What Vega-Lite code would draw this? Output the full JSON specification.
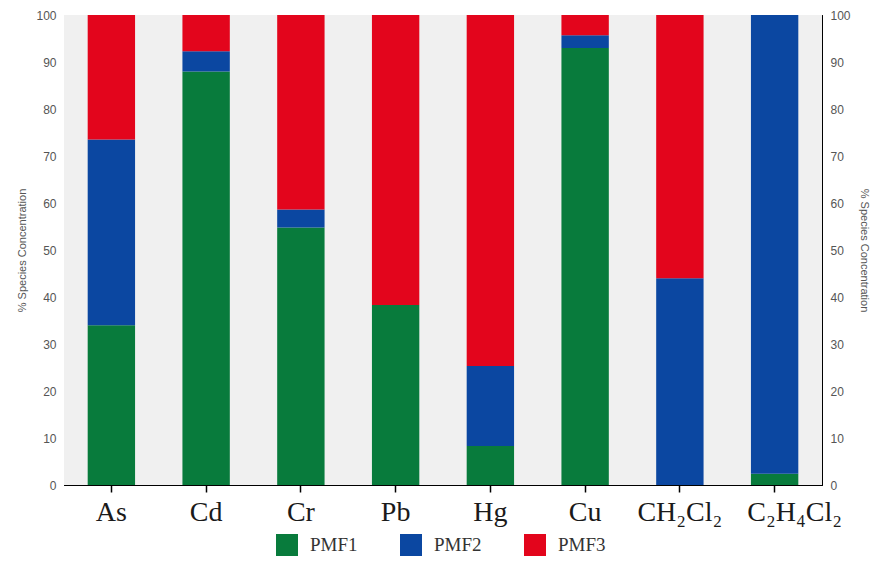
{
  "$schema": "https://vega.github.io/schema/vega-lite/v6.json",
  "width": 758,
  "height": 470,
  "autosize": "none",
  "padding": {"left": 64, "top": 15, "right": 50, "bottom": 78},
  "background": "white",
  "view": {"stroke": "black", "strokeWidth": 1},
  "config": {"axis": {"ticks": true, "tickOpacity": 1, "domainOpacity": 1, "tickColor": "black", "domainColor": "black"}},
  "datasets": {
    "shares": [
      {"species": "As", "series": "PMF1", "value": 34},
      {"species": "As", "series": "PMF2", "value": 39.5},
      {"species": "As", "series": "PMF3", "value": 26.5},
      {"species": "Cd", "series": "PMF1", "value": 88},
      {"species": "Cd", "series": "PMF2", "value": 4.3},
      {"species": "Cd", "series": "PMF3", "value": 7.7},
      {"species": "Cr", "series": "PMF1", "value": 54.8},
      {"species": "Cr", "series": "PMF2", "value": 3.8},
      {"species": "Cr", "series": "PMF3", "value": 41.4},
      {"species": "Pb", "series": "PMF1", "value": 38.3},
      {"species": "Pb", "series": "PMF2", "value": 0},
      {"species": "Pb", "series": "PMF3", "value": 61.7},
      {"species": "Hg", "series": "PMF1", "value": 8.3},
      {"species": "Hg", "series": "PMF2", "value": 17},
      {"species": "Hg", "series": "PMF3", "value": 74.7},
      {"species": "Cu", "series": "PMF1", "value": 93},
      {"species": "Cu", "series": "PMF2", "value": 2.7},
      {"species": "Cu", "series": "PMF3", "value": 4.3},
      {"species": "CH₂Cl₂", "series": "PMF1", "value": 0},
      {"species": "CH₂Cl₂", "series": "PMF2", "value": 44},
      {"species": "CH₂Cl₂", "series": "PMF3", "value": 56},
      {"species": "C₂H₄Cl₂", "series": "PMF1", "value": 2.4},
      {"species": "C₂H₄Cl₂", "series": "PMF2", "value": 97.6},
      {"species": "C₂H₄Cl₂", "series": "PMF3", "value": 0}
    ],
    "panel": [{"name": "plot"}]
  },
  "layer": [
    {
      "data": {"name": "panel"},
      "mark": {"type": "rect", "color": "#f0f0f0"},
      "encoding": {}
    },
    {
      "data": {"name": "shares"},
      "mark": {"type": "bar"},
      "encoding": {
        "x": {
          "field": "species",
          "type": "nominal",
          "sort": null,
          "scale": {"paddingInner": 0.5, "paddingOuter": 0.25},
          "axis": {
            "title": null,
            "labelAngle": 0,
            "labelFont": "Liberation Serif",
            "labelFontSize": 28,
            "labelColor": "#1a1a1a",
            "labelPadding": 6,
            "labelOffset": {"condition": {"test": "datum.label === 'C₂H₄Cl₂'", "value": 20}, "value": 0},
            "ticks": true,
            "tickSize": 7,
            "tickWidth": 1.5,
            "tickOpacity": 1,
            "tickColor": "black",
            "domainColor": "black",
            "grid": false
          }
        },
        "y": {
          "field": "value",
          "type": "quantitative",
          "stack": "zero",
          "scale": {"domain": [0, 100], "nice": false},
          "axis": {
            "title": "% Species Concentration",
            "titleFont": "Liberation Sans",
            "titleFontSize": 11,
            "titleFontWeight": "normal",
            "titleColor": "#555",
            "titlePadding": 8,
            "grid": false,
            "values": [0,1,2,3,4,5,6,7,8,9,10,11,12,13,14,15,16,17,18,19,20,21,22,23,24,25,26,27,28,29,30,31,32,33,34,35,36,37,38,39,40,41,42,43,44,45,46,47,48,49,50,51,52,53,54,55,56,57,58,59,60,61,62,63,64,65,66,67,68,69,70,71,72,73,74,75,76,77,78,79,80,81,82,83,84,85,86,87,88,89,90,91,92,93,94,95,96,97,98,99,100],
            "labelExpr": "datum.value % 10 === 0 ? datum.label : ''",
            "labelOverlap": false,
            "labelFont": "Liberation Sans",
            "labelFontSize": 12,
            "labelColor": "#555",
            "labelPadding": 16,
            "ticks": true,
            "tickSize": -8,
            "tickDash": {"condition": {"test": "datum.value % 10 === 0", "value": [8, 0]}, "value": [4, 8]},
            "tickColor": "black",
            "tickOpacity": 1,
            "tickWidth": 1,
            "domainColor": "black"
          }
        },
        "color": {
          "field": "series",
          "type": "nominal",
          "scale": {"domain": ["PMF1", "PMF2", "PMF3"], "range": ["#087b3c", "#0b47a1", "#e3051c"]},
          "legend": {
            "title": null,
            "orient": "none",
            "legendX": 212,
            "legendY": 519,
            "direction": "horizontal",
            "symbolType": "square",
            "symbolSize": 484,
            "symbolStrokeWidth": 0,
            "symbolOpacity": 1,
            "labelFont": "Liberation Serif",
            "labelFontSize": 19,
            "labelColor": "#333",
            "labelOffset": 12,
            "columnPadding": 42
          }
        },
        "order": {"field": "series", "sort": "ascending"}
      }
    },
    {
      "data": {"name": "shares"},
      "mark": {"type": "bar", "opacity": 0},
      "encoding": {
        "x": {"field": "species", "type": "nominal", "sort": null},
        "y": {
          "field": "value",
          "type": "quantitative",
          "stack": "zero",
          "scale": {"domain": [0, 100], "nice": false},
          "axis": {
            "orient": "right",
            "title": "% Species Concentration",
            "titleFont": "Liberation Sans",
            "titleFontSize": 11,
            "titleFontWeight": "normal",
            "titleColor": "#555",
            "titlePadding": 8,
            "grid": false,
            "values": [0,1,2,3,4,5,6,7,8,9,10,11,12,13,14,15,16,17,18,19,20,21,22,23,24,25,26,27,28,29,30,31,32,33,34,35,36,37,38,39,40,41,42,43,44,45,46,47,48,49,50,51,52,53,54,55,56,57,58,59,60,61,62,63,64,65,66,67,68,69,70,71,72,73,74,75,76,77,78,79,80,81,82,83,84,85,86,87,88,89,90,91,92,93,94,95,96,97,98,99,100],
            "labelExpr": "datum.value % 10 === 0 ? datum.label : ''",
            "labelOverlap": false,
            "labelFont": "Liberation Sans",
            "labelFontSize": 12,
            "labelColor": "#555",
            "labelPadding": 16,
            "ticks": true,
            "tickSize": -8,
            "tickDash": {"condition": {"test": "datum.value % 10 === 0", "value": [8, 0]}, "value": [4, 8]},
            "tickColor": "black",
            "tickOpacity": 1,
            "tickWidth": 1,
            "domainColor": "black"
          }
        },
        "color": {"field": "series", "type": "nominal"},
        "order": {"field": "series", "sort": "ascending"}
      }
    }
  ],
  "resolve": {"scale": {"y": "independent"}}
}
